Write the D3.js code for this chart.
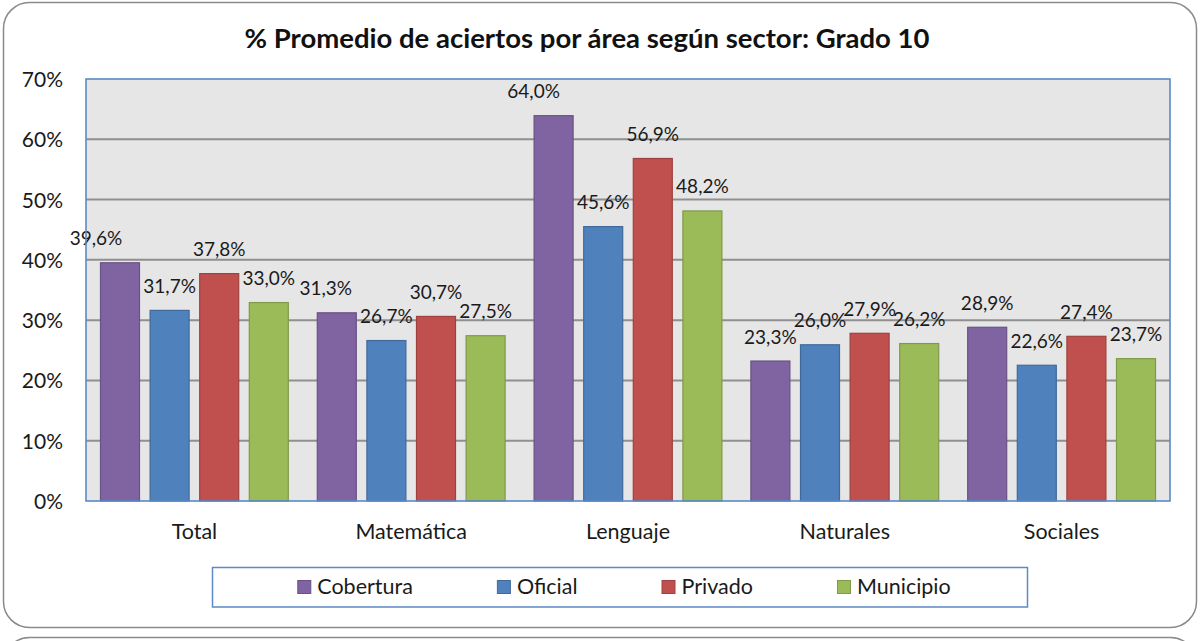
<!DOCTYPE html>
<html>
<head>
<meta charset="utf-8">
<script src="https://cdn.jsdelivr.net/npm/d3@7/dist/d3.min.js"></script>
<style>
  html, body { margin: 0; padding: 0; background: #fff; }
  svg { display: block; font-family: Lato, "Open Sans", sans-serif; }
</style>
</head>
<body>
<svg id="chart" width="1201" height="641"></svg>
<script>
// Areas evaluated and sectors compared
const categories = ["Total", "Matemática", "Lenguaje", "Naturales", "Sociales"];
const series = ["Cobertura", "Oficial", "Privado", "Municipio"];
const colors = ["#8064a2", "#4f81bd", "#c0504d", "#9bbb59"];

// Average % of correct answers, one array per sector (same order as categories)
const cobertura = [39.6, 31.3, 64.0, 23.3, 28.9];
const oficial   = [31.7, 26.7, 45.6, 26.0, 22.6];
const privado   = [37.8, 30.7, 56.9, 27.9, 27.4];
const municipio = [33.0, 27.5, 48.2, 26.2, 23.7];

// Horizontal nudges for the few labels moved off-centre: [category, series, dx]
const labelNudges = [["Total", "Cobertura", -24], ["Matemática", "Cobertura", -11], ["Lenguaje", "Cobertura", -20]];

const yTicks = [0, 10, 20, 30, 40, 50, 60, 70];
const title = "% Promedio de aciertos por área según sector: Grado 10";

const values = [cobertura, oficial, privado, municipio];
const fmt = v => d3.format(".1f")(v).replace(".", ",") + "%";

const svg = d3.select("#chart");

// Outer chart frame and the top of the next frame below it
svg.append("rect")
  .attr("x", 3.5).attr("y", 2.5).attr("width", 1193).attr("height", 625)
  .attr("rx", 26).attr("ry", 26)
  .attr("fill", "#fff").attr("stroke", "#8a8a8a").attr("stroke-width", 1.5);
svg.append("rect")
  .attr("x", 3.5).attr("y", 637.5).attr("width", 1193).attr("height", 120)
  .attr("rx", 26).attr("ry", 26)
  .attr("fill", "#fff").attr("stroke", "#8a8a8a").attr("stroke-width", 1.5);

const plot = { left: 86, right: 1170, top: 79, bottom: 501 };

const x0 = d3.scaleBand().domain(categories).range([plot.left, plot.right]);
const x1 = d3.scaleBand().domain(series).range([0, x0.bandwidth()])
  .paddingInner(0.1935).paddingOuter(0.282);
const y = d3.scaleLinear().domain([0, 70]).range([plot.bottom, plot.top]);

// Plot background
svg.append("rect")
  .attr("x", plot.left).attr("y", plot.top)
  .attr("width", plot.right - plot.left).attr("height", plot.bottom - plot.top)
  .attr("fill", "#e6e6e6");

// Gridlines
svg.append("g")
  .selectAll("line")
  .data(yTicks.filter(t => t > 0 && t < 70))
  .join("line")
  .attr("x1", plot.left).attr("x2", plot.right)
  .attr("y1", d => y(d)).attr("y2", d => y(d))
  .attr("stroke", "#8f8f8f").attr("stroke-width", 2);

// Bars
const groups = svg.append("g")
  .selectAll("g")
  .data(categories)
  .join("g")
  .attr("transform", d => `translate(${x0(d)},0)`);

const cells = (cat, ci) => series.map((s, si) => ({ cat, ci, s, si, v: values[si][ci] }));

groups.selectAll("rect")
  .data((d, i) => cells(d, i))
  .join("rect")
  .attr("x", d => x1(d.s) + 0.5)
  .attr("y", d => y(d.v) + 0.5)
  .attr("width", x1.bandwidth() - 1)
  .attr("height", d => y(0) - y(d.v) - 0.5)
  .attr("fill", d => colors[d.si])
  .attr("stroke", d => d3.color(colors[d.si]).darker(0.55))
  .attr("stroke-width", 1.2);

// Plot border
svg.append("rect")
  .attr("x", plot.left).attr("y", plot.top)
  .attr("width", plot.right - plot.left).attr("height", plot.bottom - plot.top)
  .attr("fill", "none").attr("stroke", "#5b8ac6").attr("stroke-width", 1.6);

// Value labels
groups.selectAll("text.val")
  .data((d, i) => cells(d, i))
  .join("text")
  .attr("class", "val")
  .attr("x", d => {
    const n = labelNudges.find(k => k[0] === d.cat && k[1] === d.s);
    return x1(d.s) + x1.bandwidth() / 2 + (n ? n[2] : 0);
  })
  .attr("y", d => y(d.v) - 17)
  .attr("text-anchor", "middle")
  .attr("font-size", 19)
  .attr("fill", "#1a1a1a")
  .text(d => fmt(d.v));

// Y axis labels
const yAxis = d3.axisLeft(y).tickValues(yTicks).tickFormat(d => d + "%").tickSize(0).tickPadding(23);
const ya = svg.append("g").attr("transform", `translate(${plot.left},0)`).call(yAxis);
ya.select(".domain").remove();
ya.selectAll("text").attr("font-size", 21).attr("fill", "#1a1a1a")
  .attr("font-family", "Lato, sans-serif").attr("dy", "0.36em");

// Category labels
const xAxis = d3.axisBottom(x0).tickSize(0).tickPadding(23);
const xa = svg.append("g").attr("transform", `translate(0,${plot.bottom})`).call(xAxis);
xa.select(".domain").remove();
xa.selectAll("text").attr("font-size", 21.5).attr("fill", "#1a1a1a")
  .attr("font-family", "Lato, sans-serif");

// Title
svg.append("text")
  .attr("x", 587).attr("y", 48)
  .attr("text-anchor", "middle")
  .attr("font-size", 27.5).attr("font-weight", "bold").attr("fill", "#111")
  .text(title);

// Legend
svg.append("rect")
  .attr("x", 212.5).attr("y", 567.5).attr("width", 815).attr("height", 39.5)
  .attr("fill", "#fff").attr("stroke", "#5b8ac6").attr("stroke-width", 1.5);

const legend = svg.append("g");
let lx = 0;
series.forEach((s, i) => {
  const item = legend.append("g").attr("transform", `translate(${lx},0)`);
  item.append("rect")
    .attr("x", 0.5).attr("y", 580.5).attr("width", 13).attr("height", 13)
    .attr("fill", colors[i]).attr("stroke", d3.color(colors[i]).darker(0.55)).attr("stroke-width", 1);
  const t = item.append("text")
    .attr("x", 20).attr("y", 594)
    .attr("font-size", 21.5).attr("fill", "#1a1a1a")
    .text(s);
  lx += 20 + t.node().getComputedTextLength() + (i < series.length - 1 ? 84 : 0);
});
legend.attr("transform", `translate(${624 - lx / 2},0)`);
</script>
</body>
</html>
